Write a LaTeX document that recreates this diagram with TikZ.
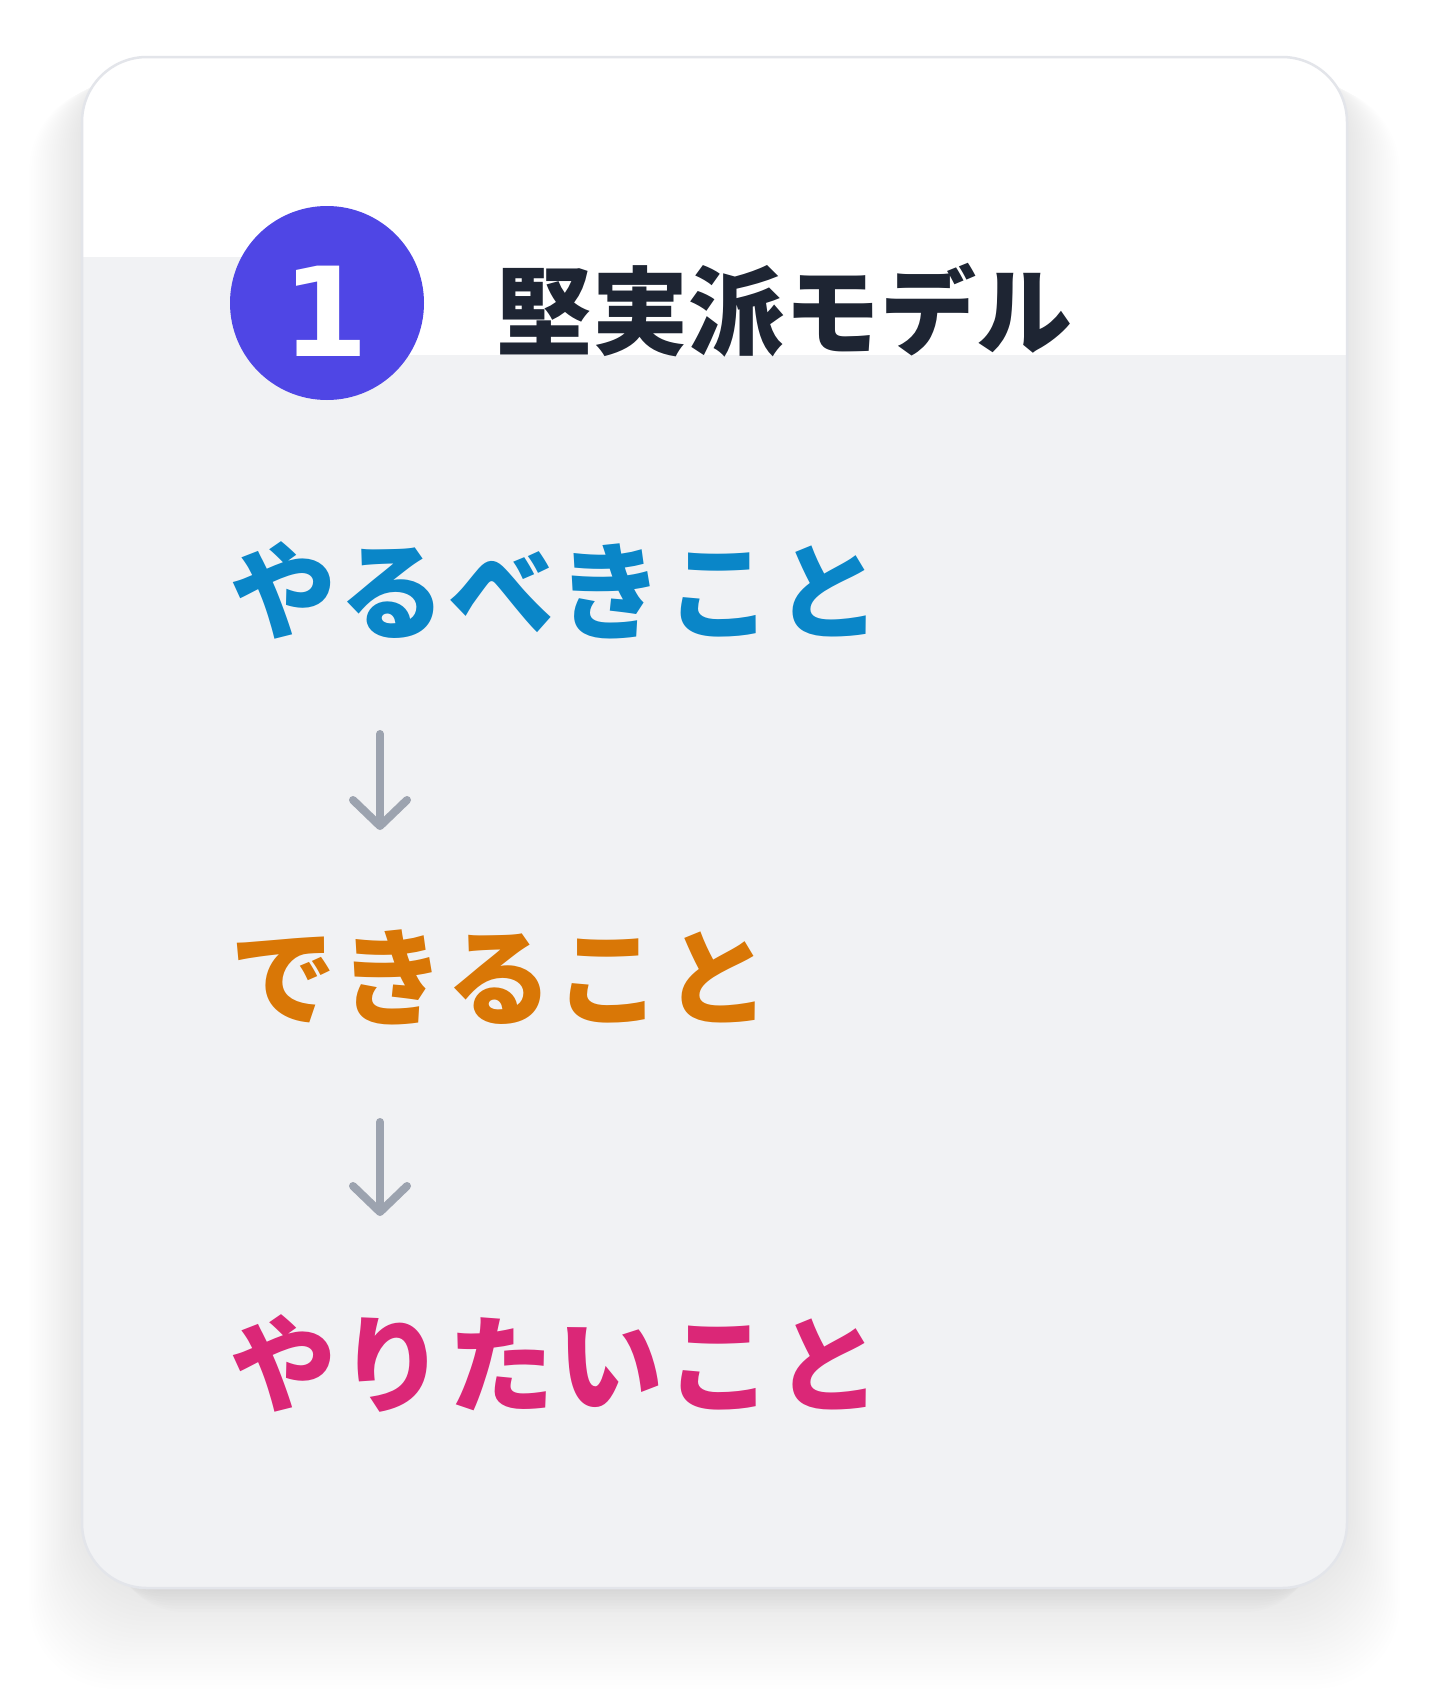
\documentclass[tikz,border=0pt]{standalone}
\usepackage{fontspec}
\newfontfamily\cjk{Noto Sans CJK JP}
\newfontfamily\numfont{DejaVu Sans}
\usetikzlibrary{arrows.meta}
\definecolor{cardbg}{HTML}{F1F2F4}
\definecolor{cardline}{HTML}{E3E5EA}
\definecolor{badge}{HTML}{4F46E5}
\definecolor{titlec}{HTML}{1E2533}
\definecolor{bluec}{HTML}{0A86C8}
\definecolor{orangec}{HTML}{D97706}
\definecolor{pinkc}{HTML}{DB2777}
\definecolor{arrowc}{HTML}{9CA3AF}
\tikzset{
  item/.style={anchor=west, inner sep=0pt, font=\cjk\bfseries\fontsize{106pt}{120pt}\selectfont\addfontfeature{LetterSpace=3}},
  flow/.style={draw=arrowc, line width=8pt, line cap=round,
     -{Straight Barb[length=26pt,width=54pt,line width=8pt,round]}},
}
\begin{document}
\begin{tikzpicture}[x=1pt,y=-1pt]
\useasboundingbox (0,0) rectangle (1440,1689);
\fill[white] (0,0) rectangle (1440,1689);
% shadow
\foreach \i in {1,...,24}{
  \fill[black, opacity=0.0042, rounded corners=85pt]
    (82-2.2*\i, 57+1.2*\i) rectangle (1347+2.2*\i, 1588+4.2*\i);
}
\foreach \i in {1,...,8}{
  \fill[black, opacity=0.006, rounded corners=70pt]
    (90+3*\i, 1200) rectangle (1339-3*\i, 1588+3*\i);
}
% card
\fill[cardbg, rounded corners=65pt] (82,57) rectangle (1347,1588);
\begin{scope}
  \clip[rounded corners=65pt] (82,57) rectangle (1347,1588);
  \fill[white] (82,57) rectangle (1347,355);
  \fill[cardbg] (82,257) rectangle (327,355);
\end{scope}
\draw[cardline, line width=2.5pt, rounded corners=65pt] (82,57) rectangle (1347,1588);
% badge
\node[circle, fill=badge, minimum size=194pt, inner sep=0pt] (badge) at (327,303) {};
\node[text=white, inner sep=0pt, font=\numfont\bfseries\fontsize{124pt}{130pt}\selectfont] (num) at (326,311) {1};
\node[anchor=west, inner sep=0pt, text=titlec, font=\cjk\bfseries\fontsize{96pt}{110pt}\selectfont] (title) at (496,310) {堅実派モデル};
% items
\node[item, text=bluec] (must) at (230,590) {やるべきこと};
\node[item, text=orangec] (can) at (230,977) {できること};
\node[item, text=pinkc] (want) at (230,1363) {やりたいこと};
% arrows
\coordinate (a1s) at (380,734);
\coordinate (a1e) at (380,830);
\coordinate (a2s) at (380,1122);
\coordinate (a2e) at (380,1216);
\draw[flow] (a1s) -- (a1e);
\draw[flow] (a2s) -- (a2e);
\end{tikzpicture}
\end{document}
